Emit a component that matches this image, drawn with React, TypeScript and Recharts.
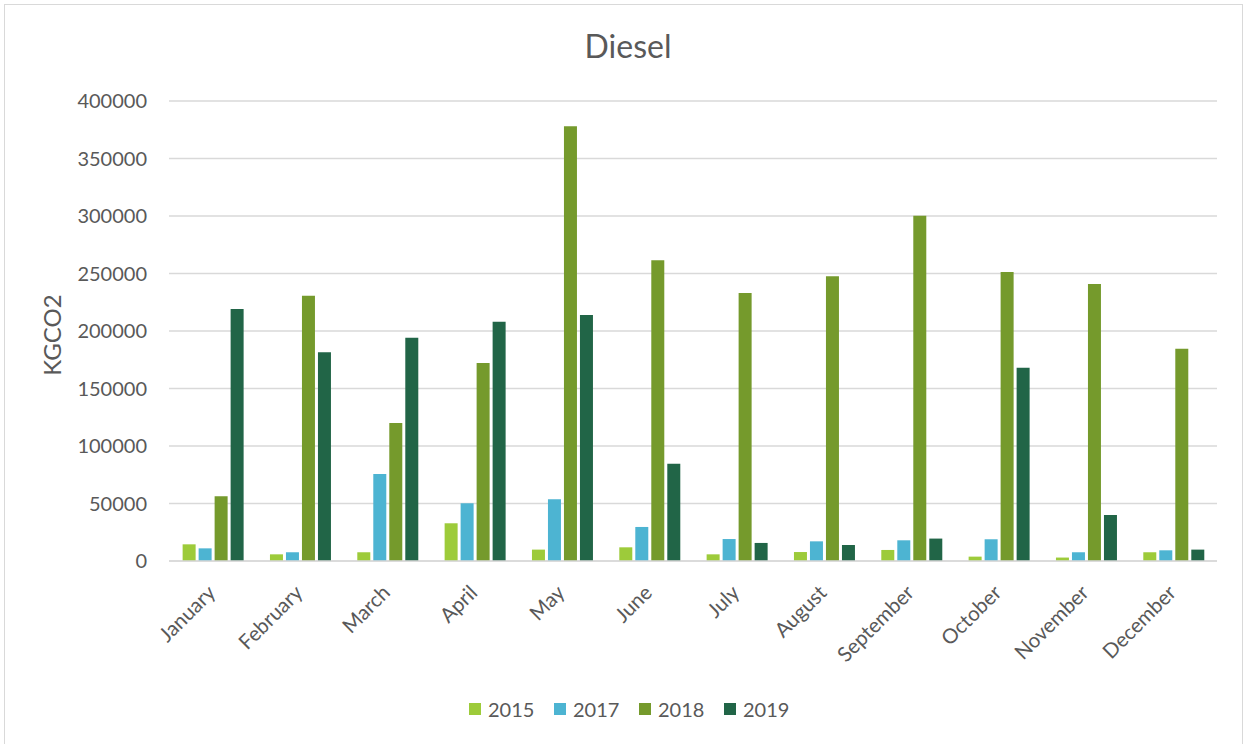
import React from "react";
import { BarChart, Bar, XAxis, YAxis, CartesianGrid, Legend } from "recharts";

const months = ["January","February","March","April","May","June","July","August","September","October","November","December"];
const s2015 = [14500, 5800, 7600, 32800, 9900, 11900, 5800, 7800, 9600, 3800, 3000, 7600];
const s2017 = [11000, 7600, 75700, 50200, 53700, 29600, 19100, 17100, 18000, 18900, 7600, 9300];
const s2018 = [56300, 230700, 120000, 172200, 378000, 261500, 233000, 247600, 300300, 251300, 240900, 184600];
const s2019 = [219100, 181500, 194200, 208100, 213900, 84600, 15700, 13900, 19500, 168100, 40000, 9900];
const yTicks = [0, 50000, 100000, 150000, 200000, 250000, 300000, 350000, 400000];
const seriesNames = ["2015", "2017", "2018", "2019"];
const seriesColors = ["#9DCB3A", "#4DB4D2", "#759A2C", "#216547"];
const title = "Diesel";
const yLabel = "KGCO2";

const data = months.map((m, i) => ({
  month: m,
  "2015": s2015[i],
  "2017": s2017[i],
  "2018": s2018[i],
  "2019": s2019[i],
}));

const FONT = "Lato, 'Open Sans', sans-serif";
const TEXT = "#595959";

const MonthTick = (props: any) => {
  const { x, y, payload } = props;
  return (
    <g transform={`translate(${x + 4},${y + 33})`}>
      <text textAnchor="end" transform="rotate(-45)" fill={TEXT} fontSize={20.5} fontFamily={FONT}>
        {payload.value}
      </text>
    </g>
  );
};

const YLabel = () => (
  <text x={61} y={335} transform="rotate(-90 61 335)" textAnchor="middle" fill={TEXT} fontSize={24} fontFamily={FONT}>
    {yLabel}
  </text>
);

const LegendContent = () => (
  <div style={{ display: "flex", alignItems: "center", fontFamily: FONT, fontSize: 20, color: TEXT }}>
    {seriesNames.map((n, i) => (
      <div key={n} style={{ display: "flex", alignItems: "center", width: 85 }}>
        <span style={{ display: "inline-block", width: 12, height: 12, background: seriesColors[i], marginRight: 7 }} />
        <span style={{ lineHeight: "24px" }}>{n}</span>
      </div>
    ))}
  </div>
);

export default function App() {
  return (
    <div style={{ position: "absolute", left: 0, top: 0, width: 1245, height: 744, background: "#fff", overflow: "hidden" }}>
      <div style={{ position: "absolute", left: 4, top: 4, width: 1239, height: 760, border: "1.5px solid #D9D9D9", boxSizing: "border-box" }} />
      <svg style={{ position: "absolute", left: 0, top: 0 }} width={1245} height={80}>
        <text x={628} y={58} textAnchor="middle" fill={TEXT} fontSize={32} fontFamily={FONT}>{title}</text>
      </svg>
      <div style={{ position: "absolute", left: 0, top: 0 }}>
        <BarChart
          width={1245}
          height={744}
          data={data}
          margin={{ top: 101, right: 28, left: 0, bottom: 0 }}
          barCategoryGap="15.6%"
          barGap={3}
        >
          <CartesianGrid vertical={false} stroke="#D9D9D9" strokeWidth={1.5} />
          <XAxis
            dataKey="month"
            interval={0}
            tickLine={false}
            tickSize={0}
            tickMargin={0}
            axisLine={{ stroke: "#D9D9D9", strokeWidth: 1.5 }}
            height={183}
            tick={<MonthTick />}
          />
          <YAxis
            width={169}
            domain={[0, 400000]}
            ticks={yTicks}
            interval={0}
            axisLine={false}
            tickLine={false}
            tickSize={0}
            tickMargin={22}
            tick={{ fill: TEXT, fontSize: 20, fontFamily: FONT }}
            label={<YLabel />}
          />
          <Legend
            layout="horizontal"
            verticalAlign="middle"
            align="center"
            content={<LegendContent />}
            wrapperStyle={{ left: 469, top: 697, width: 360 }}
          />
          {seriesNames.map((n, i) => (
            <Bar key={n} dataKey={n} fill={seriesColors[i]} isAnimationActive={false} />
          ))}
        </BarChart>
      </div>
    </div>
  );
}
